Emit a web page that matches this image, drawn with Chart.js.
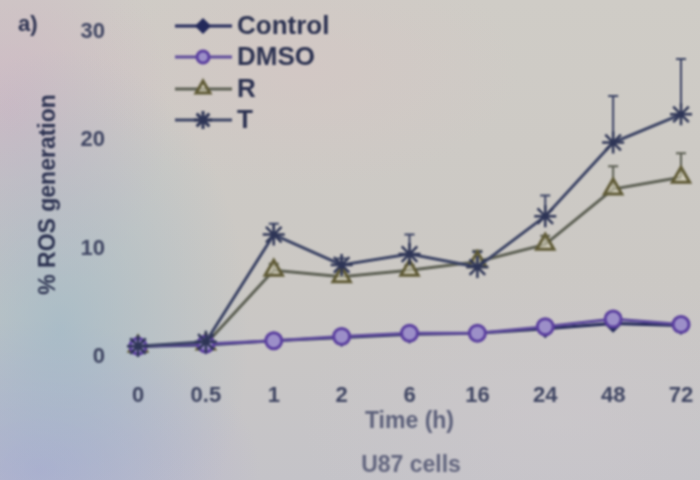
<!DOCTYPE html>
<html>
<head>
<meta charset="utf-8">
<script src="https://cdn.jsdelivr.net/npm/chart.js@4"></script>
<style>
  html, body { margin: 0; padding: 0; }
  body {
    width: 700px; height: 480px; overflow: hidden;
    background:
      radial-gradient(ellipse 190px 280px at 60px 330px, rgba(150,182,200,0.6), rgba(150,182,200,0)),
      radial-gradient(ellipse 220px 150px at 40px 470px, rgba(165,160,215,0.6), rgba(165,160,215,0)),
      radial-gradient(ellipse 160px 200px at 10px 110px, rgba(205,175,195,0.6), rgba(205,175,195,0)),
      radial-gradient(ellipse 220px 120px at 300px 70px, rgba(215,195,195,0.45), rgba(215,195,195,0)),
      radial-gradient(ellipse 260px 160px at 560px 420px, rgba(205,200,205,0.5), rgba(205,200,205,0)),
      linear-gradient(180deg, #cfccc6 0%, #cbc8c4 60%, #c4c3c8 100%);
  }
  #wrap { position: relative; width: 700px; height: 480px; filter: blur(0.8px); }
  canvas { display: block; }
</style>
</head>
<body>
<div id="wrap"><canvas id="rosChart" width="700" height="480"></canvas></div>
<script>
const hours = ['0', '0.5', '1', '2', '6', '16', '24', '48', '72'];
const yTicks = [0, 10, 20, 30];

const controlVals = [1.0, 1.1, 1.5, 1.8, 2.1, 2.2, 2.6, 3.1, 2.9];
const dmsoVals    = [1.0, 1.2, 1.5, 1.9, 2.2, 2.2, 2.8, 3.5, 3.0];
const rVals       = [1.0, 1.2, 8.0, 7.4, 8.0, 8.8, 10.4, 15.5, 16.6];
const tVals       = [1.0, 1.4, 11.3, 8.5, 9.5, 8.3, 13.0, 19.8, 22.4];

const rErr = [0, 0, 0.6, 0.4, 0.5, 1.0, 0.8, 2.1, 2.2];
const tErr = [0, 0, 1.0, 0.6, 1.8, 1.4, 1.9, 4.3, 5.1];

const inkDark = '#2b3150';
const tickInk = '#3f4562';
const fontFam = '"Liberation Sans", Arial, sans-serif';

const ctx = document.getElementById('rosChart');

// upward error bars, drawn under the markers
const errorBars = {
  id: 'errorBars',
  beforeDatasetsDraw(chart) {
    const c = chart.ctx;
    const yScale = chart.scales.y;
    chart.data.datasets.forEach((ds, i) => {
      if (!ds.err) return;
      const meta = chart.getDatasetMeta(i);
      c.save();
      c.strokeStyle = ds.borderColor;
      c.lineWidth = 2;
      meta.data.forEach((pt, j) => {
        const e = ds.err[j];
        if (!e) return;
        const yTop = yScale.getPixelForValue(ds.data[j] + e);
        c.beginPath();
        c.moveTo(pt.x, pt.y); c.lineTo(pt.x, yTop);
        c.moveTo(pt.x - 5, yTop); c.lineTo(pt.x + 5, yTop);
        c.stroke();
      });
      c.restore();
    });
  }
};

// legend with line + marker, plus panel letter and cell label
const legendRows = [26, 57, 89, 120];
const sideText = {
  id: 'sideText',
  afterDraw(chart) {
    const c = chart.ctx;
    c.save();
    chart.data.datasets.forEach((ds, i) => {
      const y = legendRows[i];
      c.strokeStyle = ds.borderColor;
      c.lineWidth = 3;
      c.beginPath();
      c.moveTo(175, y); c.lineTo(232, y);
      c.stroke();
      c.fillStyle = ds.pointBackgroundColor;
      c.strokeStyle = ds.pointBorderColor || ds.borderColor;
      Chart.helpers.drawPoint(c, {
        pointStyle: ds.pointStyle, rotation: 0,
        radius: ds.pointRadius - 2, borderWidth: ds.pointBorderWidth
      }, 203, y);
      c.fillStyle = inkDark;
      c.font = 'bold 26px ' + fontFam;
      c.textAlign = 'left';
      c.textBaseline = 'middle';
      c.fillText(ds.label, 237, y + 1);
    });
    c.fillStyle = inkDark;
    c.font = 'bold 22px ' + fontFam;
    c.fillText('a)', 18, 25);
    c.fillStyle = '#62657e';
    c.font = 'bold 23px ' + fontFam;
    c.textAlign = 'center';
    c.fillText('U87 cells', 411, 466);
    c.restore();
  }
};

new Chart(ctx, {
  type: 'line',
  data: {
    labels: hours,
    datasets: [
      {
        label: 'Control',
        data: controlVals,
        borderColor: '#23295a',
        borderWidth: 3,
        pointStyle: 'rectRot',
        pointRadius: 8,
        pointBorderWidth: 2,
        pointBackgroundColor: '#23295a',
        pointBorderColor: '#23295a',
        order: 2
      },
      {
        label: 'DMSO',
        data: dmsoVals,
        borderColor: '#5d4a9a',
        borderWidth: 3,
        pointStyle: 'circle',
        pointRadius: 8,
        pointBorderWidth: 3,
        pointBackgroundColor: '#9c8fc8',
        pointBorderColor: '#5a3f9e',
        order: 1
      },
      {
        label: 'R',
        data: rVals,
        err: rErr,
        borderColor: '#5b5e52',
        borderWidth: 3,
        pointStyle: 'triangle',
        pointRadius: 10,
        pointBorderWidth: 3,
        pointBackgroundColor: 'rgba(215,210,185,0.6)',
        pointBorderColor: '#5f5a36',
        order: 3
      },
      {
        label: 'T',
        data: tVals,
        err: tErr,
        borderColor: '#3a4263',
        borderWidth: 3,
        pointStyle: 'star',
        pointRadius: 11,
        pointBorderWidth: 2.5,
        pointBackgroundColor: '#2e3556',
        pointBorderColor: '#2e3556',
        order: 0
      }
    ]
  },
  options: {
    responsive: false,
    animation: false,
    layout: { padding: { top: 32, right: 19, bottom: 45, left: 0 } },
    elements: { line: { tension: 0 } },
    plugins: {
      legend: { display: false },
      tooltip: { enabled: false }
    },
    scales: {
      x: {
        offset: false,
        grid: { display: false, drawTicks: false },
        border: { display: false },
        ticks: {
          color: tickInk,
          padding: 26,
          font: { size: 22, weight: 'bold', family: fontFam }
        },
        title: {
          display: true,
          text: 'Time (h)',
          color: '#5c607a',
          padding: { top: 0, bottom: 0 },
          font: { size: 23, weight: 'bold', family: fontFam }
        },
        afterFit(scale) {
          scale.height = 78;
          scale.paddingLeft = 0;
          scale.paddingRight = 0;
        }
      },
      y: {
        min: 0,
        max: 30,
        afterBuildTicks(scale) { scale.ticks = yTicks.map(v => ({ value: v })); },
        grid: { display: false, drawTicks: false },
        border: { display: false },
        ticks: {
          color: tickInk,
          padding: 33,
          font: { size: 22, weight: 'bold', family: fontFam }
        },
        title: {
          display: true,
          text: '% ROS generation',
          color: inkDark,
          padding: { top: 35, bottom: 0 },
          font: { size: 23, weight: 'bold', family: fontFam }
        },
        afterFit(scale) {
          scale.width = 138;
          scale.paddingTop = 0;
          scale.paddingBottom = 0;
        }
      }
    }
  },
  plugins: [errorBars, sideText]
});
</script>
</body>
</html>
